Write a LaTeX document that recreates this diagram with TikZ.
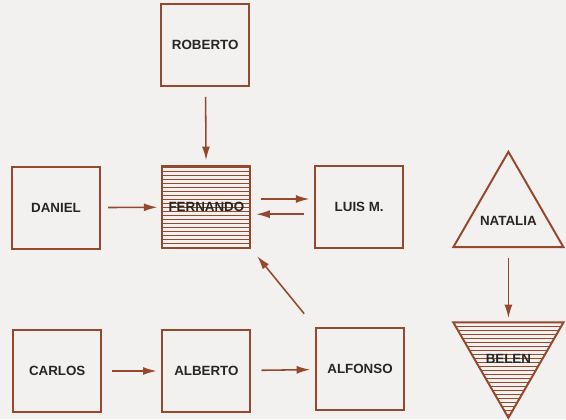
\documentclass[tikz,border=0pt]{standalone}
\usepackage{fontspec}
\setmainfont{Liberation Sans}
\usetikzlibrary{arrows.meta,shapes.geometric}

\definecolor{linebrown}{RGB}{150,72,45}
\definecolor{paper}{RGB}{242,241,239}
\definecolor{ink}{RGB}{40,38,36}

\begin{document}
\begin{tikzpicture}[thick,
  person/.style={draw=linebrown,line width=1.4pt,minimum width=2.2cm,minimum height=2.05cm,inner sep=0pt,
    font=\bfseries\fontsize{9.5}{10}\selectfont,text=ink},
  hatched/.style={path picture={
    \foreach \k in {-20,...,20}
      \draw[linebrown,line width=0.6pt] ([yshift=\k*1mm]path picture bounding box.west) -- ([yshift=\k*1mm]path picture bounding box.east);}},
  tri/.style={draw=linebrown,line width=1.4pt,regular polygon,regular polygon sides=3,minimum size=3.18cm,inner sep=0pt,
    label={[font=\bfseries\fontsize{9.5}{10}\selectfont,text=ink,yshift=-0.13cm]center:#1}},
  link/.style={draw=linebrown,line width=1.1pt,-{Latex[length=3.4mm,width=2mm]},shorten <=0.25cm,shorten >=0.12cm}]

\fill[paper] (0,0) rectangle (14.15,10.475);
\useasboundingbox (0,0) rectangle (14.15,10.475);

\node[person] (roberto) at (5.13,9.35) {ROBERTO};
\node[person,hatched] (fernando) at (5.16,5.3) {FERNANDO};
\node[person] (luis) at (8.98,5.3) {LUIS M.};
\node[person] (daniel) at (1.4,5.28) {DANIEL};

\node[person] (carlos) at (1.43,1.2) {CARLOS};
\node[person] (alberto) at (5.16,1.2) {ALBERTO};
\node[person] (alfonso) at (9.0,1.25) {ALFONSO};

\node[tri=NATALIA] (natalia) at (12.71,5.09) {};
\node[tri=BELEN,shape border rotate=180,hatched] (belen) at (12.71,1.62) {};

% arrows
\draw[link] (roberto) -- (fernando);
\draw[link,shorten <=0.18cm,shorten >=0.1cm] (daniel) -- (fernando);
\draw[link] ([yshift=0.2cm]fernando.east) -- ([yshift=0.2cm]luis.west);
\draw[link] ([yshift=-0.18cm]luis.west) -- ([yshift=-0.18cm]fernando.east);
\draw[link,shorten <=0.43cm,shorten >=0.23cm] (alfonso.north west) -- (fernando.south east);
\draw[link] (carlos) -- (alberto);
\draw[link] (alberto) -- (alfonso);
\draw[link,shorten >=0.08cm] (natalia.south) -- (belen.north);

\end{tikzpicture}
\end{document}
